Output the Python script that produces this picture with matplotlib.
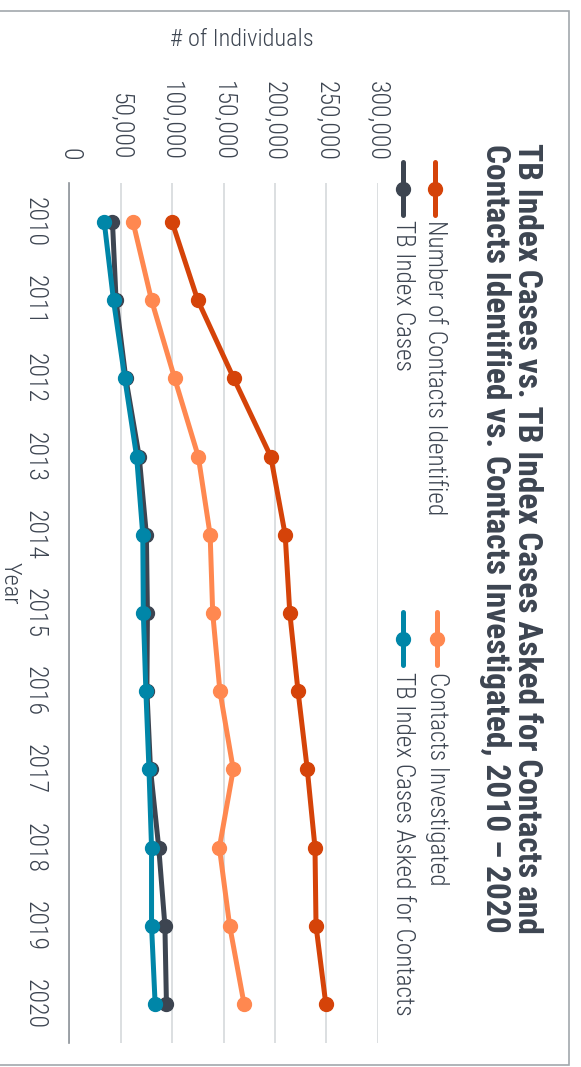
import matplotlib
matplotlib.use("Agg")
import matplotlib.pyplot as plt
from matplotlib import font_manager
from matplotlib.lines import Line2D
from matplotlib.patches import Rectangle

# ---------------- data ----------------
years = [2010, 2011, 2012, 2013, 2014, 2015, 2016, 2017, 2018, 2019, 2020]
contacts_identified = [100000, 125000, 160000, 196000, 210000, 214500, 222500, 231500, 239000, 240000, 249500]
contacts_investigated = [62000, 80000, 102500, 125500, 137000, 139500, 146500, 159500, 146000, 156000, 170000]
tb_index_cases = [42000, 45500, 55000, 68000, 75000, 76000, 75500, 79000, 87000, 93000, 94500]
tb_asked_contacts = [34000, 43000, 54000, 65500, 71500, 72000, 74500, 77500, 80000, 80000, 83500]
value_ticks = [0, 50000, 100000, 150000, 200000, 250000, 300000]

series_labels = ["Number of Contacts Identified", "Contacts Investigated",
                 "TB Index Cases", "TB Index Cases Asked for Contacts"]
colors = ["#d54309", "#ff8850", "#3d4551", "#0086a8"]
title = ("TB Index Cases vs. TB Index Cases Asked for Contacts and\n"
         "Contacts Identified vs. Contacts Investigated, 2010 \u2013 2020")

# ---------------- fonts ----------------
names = {f.name for f in font_manager.fontManager.ttflist}
fam = "Roboto"
for cand in ["Roboto Condensed", "Liberation Sans Narrow", "DejaVu Sans Condensed", "Roboto"]:
    if cand in names:
        fam = cand
        break
plt.rcParams["font.family"] = [fam, "DejaVu Sans"]
TXT = "#3d4551"
LIGHT = "light"

W, H = 581, 1067
fig = plt.figure(figsize=(W / 100, H / 100), dpi=100)

def fx(px):
    return px / W

def fy(py):
    return 1 - py / H

# axes: value axis horizontal (0 at x=69.3, 300k at x=377.7), years vertical (top 183 -> bottom 1043)
ax_left, ax_right, ax_top, ax_bot = 69.3, 377.7, 183, 1043
ax = fig.add_axes([fx(ax_left), fy(ax_bot), fx(ax_right) - fx(ax_left), (ax_bot - ax_top) / H])
ax.set_xlim(0, 300000)
ax.set_ylim(2020.5, 2009.5)

data = [contacts_identified, contacts_investigated, tb_index_cases, tb_asked_contacts]
for vals, c, lab in zip(data, colors, series_labels):
    ax.plot(vals, years, color=c, lw=3.6, marker="o", ms=10, label=lab, solid_capstyle="round", zorder=3)

for s in ["top", "right", "bottom"]:
    ax.spines[s].set_visible(False)
ax.spines["left"].set_color("#8d9399")
ax.spines["left"].set_linewidth(1.2)
ax.set_xticks(value_ticks)
ax.set_xticklabels([f"{v:,}" for v in value_ticks], fontweight=LIGHT)
ax.xaxis.tick_top()
ax.tick_params(axis="x", length=0, pad=16, labelsize=18.5, labelcolor=TXT, labelrotation=-90)
ax.set_yticks(years)
ax.set_yticklabels([str(y) for y in years], fontweight=LIGHT)
ax.tick_params(axis="y", length=0, pad=16, labelsize=18.5, labelcolor=TXT, labelrotation=-90)
for lab in ax.get_yticklabels():
    lab.set_va("center")
ax.grid(axis="x", color="#d6d9dc", lw=1.2, zorder=0)
ax.grid(axis="y", visible=False)

# axis titles
fig.text(fx(170), fy(40), "# of Individuals", fontsize=17.6, color=TXT, ha="left", va="center",
         fontweight=LIGHT)
fig.text(fx(10), fy(583), "Year", fontsize=17.6, color=TXT, ha="center", va="center", rotation=-90,
         fontweight=LIGHT)

# title
fig.text(fx(511), fy(538), title, fontsize=24, fontweight="bold", color=TXT,
         rotation=-90, ha="center", va="center", multialignment="center", linespacing=1.0)

# legend (manual, rotated)
legend_pos = [(435, 162, 220), (436.7, 612, 672), (403, 162, 220), (403, 612, 672)]
for (x, y0, yt), c, lab in zip(legend_pos, colors, series_labels):
    fig.add_artist(Line2D([fx(x), fx(x)], [fy(y0), fy(y0 + 53)], color=c, lw=3.6,
                          solid_capstyle="round", transform=fig.transFigure))
    fig.add_artist(Line2D([fx(x)], [fy(y0 + 26.5)], color=c, marker="o", ms=10,
                          transform=fig.transFigure))
    fig.text(fx(x), fy(yt), lab, fontsize=18.2, color=TXT, rotation=-90, ha="center", va="top",
             fontweight=LIGHT)

# outer frame
fig.add_artist(Rectangle((fx(-5), fy(1065.3)), fx(569.3) - fx(-5), fy(10.5) - fy(1065.3),
                         fill=False, edgecolor="#a2a8ad", lw=1.2, transform=fig.transFigure))

fig.savefig("out.png", dpi=100)
